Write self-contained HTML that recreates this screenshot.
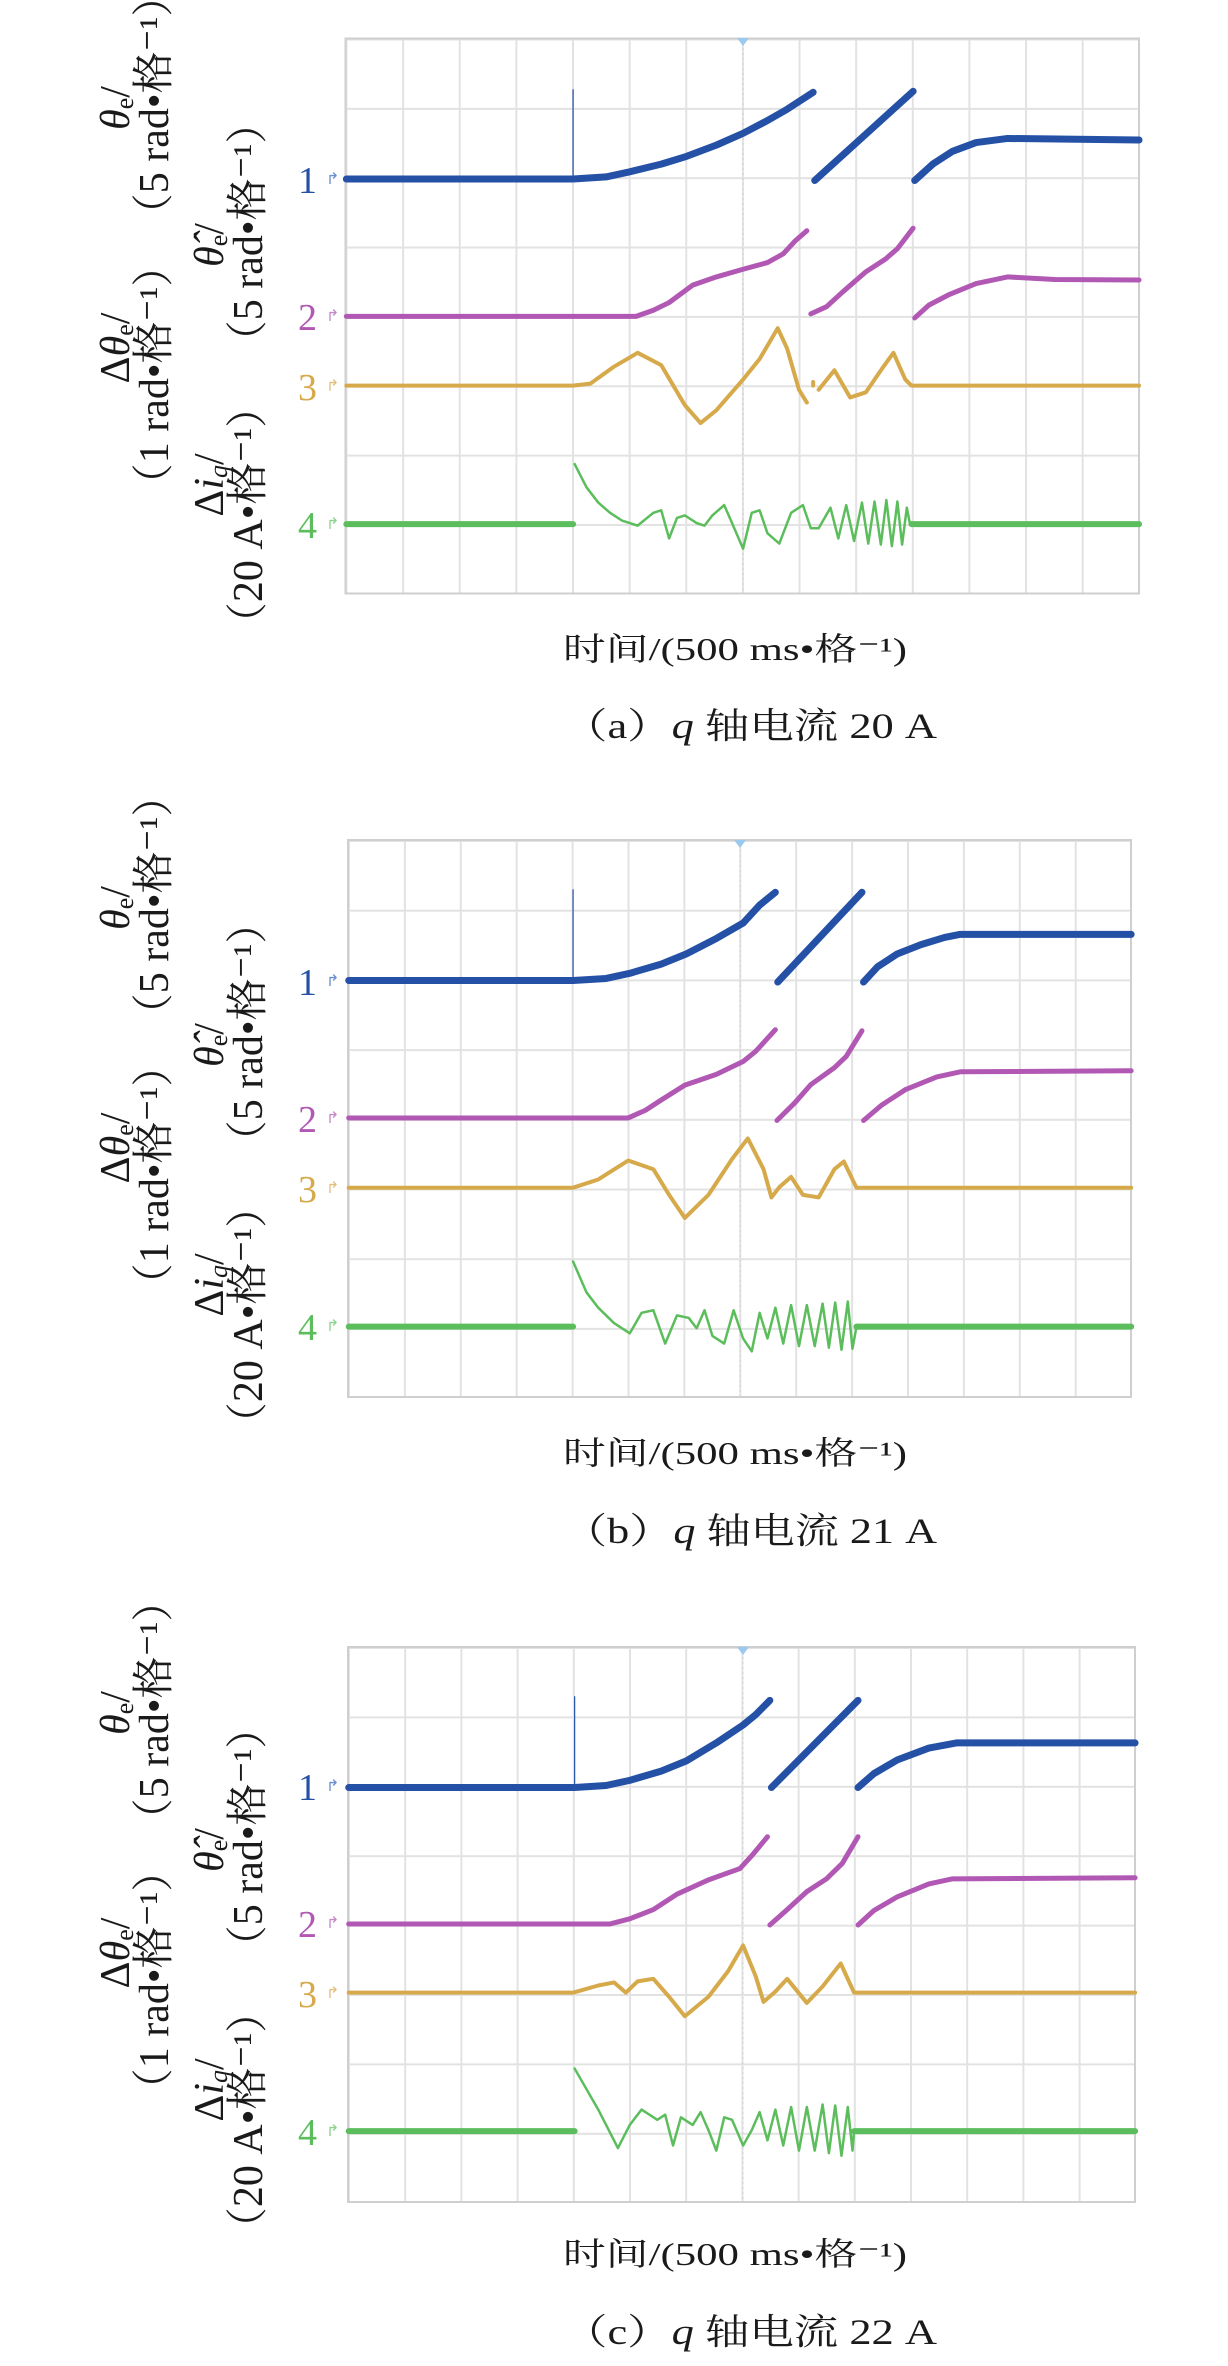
<!DOCTYPE html>
<html><head><meta charset="utf-8"><style>
html,body{margin:0;padding:0;background:#fff}
svg{display:block}
text{font-family:"Liberation Serif","Noto Serif CJK SC",serif}
</style></head><body>
<svg width="1228" height="2366" viewBox="0 0 1228 2366" xmlns="http://www.w3.org/2000/svg">
<defs>
<pattern id="ga" x="345.5" y="38.5" width="56.63" height="69.35" patternUnits="userSpaceOnUse"><path d="M1 0V69.35M0 1H56.63" stroke="#e2e2e2" stroke-width="2" fill="none"/></pattern>
<pattern id="gb" x="348" y="840" width="55.9" height="69.7" patternUnits="userSpaceOnUse"><path d="M1 0V69.7M0 1H55.9" stroke="#e2e2e2" stroke-width="2" fill="none"/></pattern>
<pattern id="gc" x="348" y="1647" width="56.2" height="69.4" patternUnits="userSpaceOnUse"><path d="M1 0V69.4M0 1H56.2" stroke="#e2e2e2" stroke-width="2" fill="none"/></pattern>
</defs>

<rect x="345.5" y="38.5" width="793.5" height="555" fill="url(#ga)" stroke="#cfcfcf" stroke-width="2"/>
<rect x="348" y="840" width="783" height="557" fill="url(#gb)" stroke="#cfcfcf" stroke-width="2"/>
<rect x="348" y="1647" width="787" height="555" fill="url(#gc)" stroke="#cfcfcf" stroke-width="2"/>
<line x1="743" y1="38" x2="743" y2="593" stroke="#d0d0d0" stroke-dasharray="2,3"/>
<line x1="740" y1="840" x2="740" y2="1397" stroke="#d0d0d0" stroke-dasharray="2,3"/>
<line x1="743" y1="1647" x2="743" y2="2202" stroke="#d0d0d0" stroke-dasharray="2,3"/>
<path d="M737 38h12l-6 8z" fill="#9cc9ee"/>
<path d="M734 840h12l-6 8z" fill="#9cc9ee"/>
<path d="M737 1647h12l-6 8z" fill="#9cc9ee"/>

<g fill="none" stroke-linejoin="round" stroke-linecap="round">
<g transform="translate(0,0) scale(0.78717,0.51282)">
<path vector-effect="non-scaling-stroke" stroke="#2451a6" stroke-width="1.2" d="M728 349V175"/>
<path vector-effect="non-scaling-stroke" stroke="#2451a6" stroke-width="7" d="M440 349H728L770 345 800 335 840 320 872 305 910 283 944 260 975 235 1000 213 1033 180M1035 352L1160 178M1162 352L1185 320 1210 295 1240 278 1280 270 1447 273"/>
<path vector-effect="non-scaling-stroke" stroke="#b158b4" stroke-width="5" d="M440 617H808L830 605 850 590 880 556 910 540 944 525 975 512 995 495 1010 470 1025 450M1030 612L1050 598 1070 570 1100 530 1125 505 1140 485 1160 445M1162 620L1180 595 1205 575 1240 553 1280 540 1340 545 1447 546"/>
<path vector-effect="non-scaling-stroke" stroke="#d6a94a" stroke-width="4" d="M440 752H728L750 748 780 715 810 688 840 712 870 790 890 825 910 800 944 740 965 700 988 640 1000 680 1015 760 1025 785M1033 745V752M1040 760L1060 722 1080 775 1100 765 1120 720 1135 688 1150 740 1158 752H1447"/>
<path vector-effect="non-scaling-stroke" stroke="#5cbd5c" stroke-width="6" d="M440 1022H728M1158 1022H1447"/>
<path vector-effect="non-scaling-stroke" stroke="#5cbd5c" stroke-width="2.5" d="M730 905L745 950 760 980 775 1000 790 1015 810 1025 830 1000 840 995 850 1050 860 1010 870 1005 885 1020 895 1025 905 1005 920 985 930 1020 944 1070 955 1000 965 995 975 1040 990 1060 1005 1000 1020 985 1030 1030 1040 1030 1055 990 1065 1050 1075 985 1085 1055 1095 980 1103 1060 1111 978 1119 1062 1126 975 1133 1065 1140 978 1146 1062 1152 990 1156 1022"/>
</g>
<g transform="translate(0,800) scale(0.78717,0.51282)">
<path vector-effect="non-scaling-stroke" stroke="#2451a6" stroke-width="1.2" d="M728 352V175"/>
<path vector-effect="non-scaling-stroke" stroke="#2451a6" stroke-width="7" d="M443 352H728L770 348 800 338 840 320 872 300 910 270 944 240 965 205 985 180M988 355L1095 180M1097 355L1115 325 1140 300 1170 282 1200 268 1220 262H1437"/>
<path vector-effect="non-scaling-stroke" stroke="#b158b4" stroke-width="5" d="M443 620H798L820 605 840 585 870 556 910 535 944 510 960 490 985 448M987 625L1010 590 1030 555 1060 522 1075 500 1095 450M1097 625L1120 595 1150 565 1190 540 1220 530 1437 528"/>
<path vector-effect="non-scaling-stroke" stroke="#d6a94a" stroke-width="4" d="M443 756H728L760 740 798 703 830 720 850 770 870 815 900 770 930 700 950 660 970 720 980 775 990 755 1005 735 1020 770 1040 775 1060 720 1072 705 1088 756H1437"/>
<path vector-effect="non-scaling-stroke" stroke="#5cbd5c" stroke-width="6" d="M443 1027H728M1088 1027H1437"/>
<path vector-effect="non-scaling-stroke" stroke="#5cbd5c" stroke-width="2.5" d="M728 900L745 960 760 990 780 1020 800 1040 815 1000 830 995 845 1060 860 1005 875 1010 885 1030 895 995 905 1045 920 1060 932 995 944 1050 955 1075 965 1000 975 1050 985 990 995 1060 1005 985 1015 1065 1025 985 1035 1065 1045 982 1053 1068 1061 980 1069 1072 1077 978 1083 1070 1088 1027"/>
</g>
<g transform="translate(0,1566) scale(0.78717,0.51282)">
<path vector-effect="non-scaling-stroke" stroke="#2451a6" stroke-width="1.2" d="M730 432V255"/>
<path vector-effect="non-scaling-stroke" stroke="#2451a6" stroke-width="7" d="M443 432H730L770 428 800 418 840 400 872 380 910 345 944 310 960 290 978 262M980 432L1090 262M1090 432L1110 405 1140 378 1180 355 1215 345H1442"/>
<path vector-effect="non-scaling-stroke" stroke="#b158b4" stroke-width="5" d="M443 698H775L800 688 830 670 860 640 900 612 940 590 955 565 975 528M978 700L1000 670 1025 635 1050 610 1070 580 1090 528M1090 700L1110 672 1140 645 1180 620 1210 610 1442 608"/>
<path vector-effect="non-scaling-stroke" stroke="#d6a94a" stroke-width="4" d="M443 832H728L760 818 780 812 795 832 810 810 830 805 850 840 870 878 900 840 925 790 944 740 960 800 970 850 985 830 1000 805 1025 852 1045 820 1068 775 1085 832H1442"/>
<path vector-effect="non-scaling-stroke" stroke="#5cbd5c" stroke-width="6" d="M443 1102H730M1085 1102H1442"/>
<path vector-effect="non-scaling-stroke" stroke="#5cbd5c" stroke-width="2.5" d="M730 980L760 1060 785 1135 800 1090 815 1060 835 1080 845 1070 855 1130 865 1075 880 1090 890 1065 900 1100 910 1140 920 1075 930 1080 944 1130 955 1100 965 1065 975 1120 985 1060 995 1130 1005 1055 1015 1140 1025 1055 1035 1140 1045 1050 1053 1145 1061 1052 1069 1150 1077 1055 1083 1140 1085 1102"/>
</g>
</g>

<g font-size="38">
<text x="298" y="193" fill="#2451a6">1</text>
<text x="298" y="330" fill="#b158b4">2</text>
<text x="298" y="400" fill="#d6a94a">3</text>
<text x="298" y="538" fill="#5cbd5c">4</text>
<text x="298" y="995" fill="#2451a6">1</text>
<text x="298" y="1132" fill="#b158b4">2</text>
<text x="298" y="1202" fill="#d6a94a">3</text>
<text x="298" y="1340" fill="#5cbd5c">4</text>
<text x="298" y="1800" fill="#2451a6">1</text>
<text x="298" y="1937" fill="#b158b4">2</text>
<text x="298" y="2007" fill="#d6a94a">3</text>
<text x="298" y="2145" fill="#5cbd5c">4</text>
</g>
<g font-size="16">
<text x="326" y="184" fill="#6a8ed0">↱</text><text x="326" y="321" fill="#c48ac6">↱</text><text x="326" y="391" fill="#e0c080">↱</text><text x="326" y="529" fill="#8fd28f">↱</text>
<text x="326" y="986" fill="#6a8ed0">↱</text><text x="326" y="1123" fill="#c48ac6">↱</text><text x="326" y="1193" fill="#e0c080">↱</text><text x="326" y="1331" fill="#8fd28f">↱</text>
<text x="326" y="1791" fill="#6a8ed0">↱</text><text x="326" y="1928" fill="#c48ac6">↱</text><text x="326" y="1998" fill="#e0c080">↱</text><text x="326" y="2136" fill="#8fd28f">↱</text>
</g>

<g font-size="42" text-anchor="middle" fill="#1a1a1a">
<g transform="translate(0,0)">
<text transform="translate(129,108) rotate(-90)"><tspan font-style="italic">θ</tspan><tspan font-size="26" dy="4">e</tspan><tspan dy="-4">/</tspan></text>
<text transform="translate(168,105) rotate(-90)">（5 rad•格⁻¹）</text>
<text transform="translate(223,245) rotate(-90)"><tspan font-style="italic">θ̂</tspan><tspan font-size="26" dy="4">e</tspan><tspan dy="-4">/</tspan></text>
<text transform="translate(262,232) rotate(-90)">（5 rad•格⁻¹）</text>
<text transform="translate(129,348) rotate(-90)">Δ<tspan font-style="italic">θ</tspan><tspan font-size="26" dy="4">e</tspan><tspan dy="-4">/</tspan></text>
<text transform="translate(168,375) rotate(-90)">（1 rad•格⁻¹）</text>
<text transform="translate(223,485) rotate(-90)">Δ<tspan font-style="italic">i</tspan><tspan font-size="26" font-style="italic" dy="4">q</tspan><tspan dy="-4">/</tspan></text>
<text transform="translate(262,515) rotate(-90)">（20 A•格⁻¹）</text>
</g>
<g transform="translate(0,800)">
<text transform="translate(129,108) rotate(-90)"><tspan font-style="italic">θ</tspan><tspan font-size="26" dy="4">e</tspan><tspan dy="-4">/</tspan></text>
<text transform="translate(168,105) rotate(-90)">（5 rad•格⁻¹）</text>
<text transform="translate(223,245) rotate(-90)"><tspan font-style="italic">θ̂</tspan><tspan font-size="26" dy="4">e</tspan><tspan dy="-4">/</tspan></text>
<text transform="translate(262,232) rotate(-90)">（5 rad•格⁻¹）</text>
<text transform="translate(129,348) rotate(-90)">Δ<tspan font-style="italic">θ</tspan><tspan font-size="26" dy="4">e</tspan><tspan dy="-4">/</tspan></text>
<text transform="translate(168,375) rotate(-90)">（1 rad•格⁻¹）</text>
<text transform="translate(223,485) rotate(-90)">Δ<tspan font-style="italic">i</tspan><tspan font-size="26" font-style="italic" dy="4">q</tspan><tspan dy="-4">/</tspan></text>
<text transform="translate(262,515) rotate(-90)">（20 A•格⁻¹）</text>
</g>
<g transform="translate(0,1605)">
<text transform="translate(129,108) rotate(-90)"><tspan font-style="italic">θ</tspan><tspan font-size="26" dy="4">e</tspan><tspan dy="-4">/</tspan></text>
<text transform="translate(168,105) rotate(-90)">（5 rad•格⁻¹）</text>
<text transform="translate(223,245) rotate(-90)"><tspan font-style="italic">θ̂</tspan><tspan font-size="26" dy="4">e</tspan><tspan dy="-4">/</tspan></text>
<text transform="translate(262,232) rotate(-90)">（5 rad•格⁻¹）</text>
<text transform="translate(129,348) rotate(-90)">Δ<tspan font-style="italic">θ</tspan><tspan font-size="26" dy="4">e</tspan><tspan dy="-4">/</tspan></text>
<text transform="translate(168,375) rotate(-90)">（1 rad•格⁻¹）</text>
<text transform="translate(223,485) rotate(-90)">Δ<tspan font-style="italic">i</tspan><tspan font-size="26" font-style="italic" dy="4">q</tspan><tspan dy="-4">/</tspan></text>
<text transform="translate(262,515) rotate(-90)">（20 A•格⁻¹）</text>
</g>
</g>

<g fill="#1a1a1a" text-anchor="middle">
<text x="735" y="660" font-size="32" textLength="344" lengthAdjust="spacingAndGlyphs">时间/(500 ms•格⁻¹)</text>
<text x="750" y="738" font-size="36" textLength="374" lengthAdjust="spacingAndGlyphs">（a）<tspan font-style="italic">q</tspan> 轴电流 20 A</text>
<text x="735" y="1464" font-size="32" textLength="344" lengthAdjust="spacingAndGlyphs">时间/(500 ms•格⁻¹)</text>
<text x="750" y="1543" font-size="36" textLength="374" lengthAdjust="spacingAndGlyphs">（b）<tspan font-style="italic">q</tspan> 轴电流 21 A</text>
<text x="735" y="2265" font-size="32" textLength="344" lengthAdjust="spacingAndGlyphs">时间/(500 ms•格⁻¹)</text>
<text x="750" y="2344" font-size="36" textLength="374" lengthAdjust="spacingAndGlyphs">（c）<tspan font-style="italic">q</tspan> 轴电流 22 A</text>
</g>
</svg>
</body></html>
